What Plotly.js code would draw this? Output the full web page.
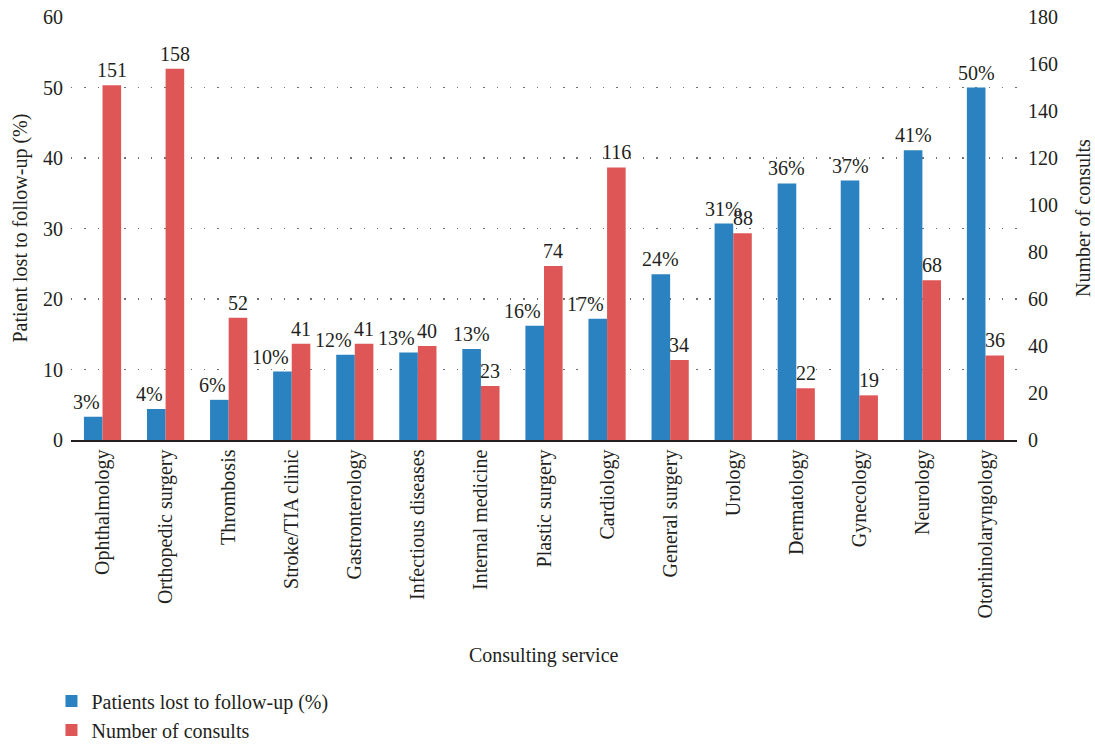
<!DOCTYPE html>
<html>
<head>
<meta charset="utf-8">
<script src="https://cdn.plot.ly/plotly-3.0.1.min.js"></script>
<style>html,body{margin:0;padding:0;background:#fff;}#chart{width:1095px;height:744px;}</style>
</head>
<body>
<div id="chart"></div>
<script>
const categories = ["Ophthalmology","Orthopedic surgery","Thrombosis","Stroke/TIA clinic","Gastronterology","Infectious diseases","Internal medicine","Plastic surgery","Cardiology","General surgery","Urology","Dermatology","Gynecology","Neurology","Otorhinolaryngology"];
const lostPct = [3.3,4.4,5.7,9.7,12.1,12.4,12.9,16.2,17.2,23.5,30.7,36.4,36.8,41.1,50.0];
const lostPctLabels = ["3%","4%","6%","10%","12%","13%","13%","16%","17%","24%","31%","36%","37%","41%","50%"];
const consults = [151,158,52,41,41,40,23,74,116,34,88,22,19,68,36];

const FONT = "Liberation Serif, DejaVu Serif, serif";
const TXT = "#231f20";
const FS = 20;
const W = 0.295;
const M = {l: 71, r: 78, t: 17, b: 304};
const PLOT_W = 1095 - M.l - M.r;
const CAT_PX = PLOT_W / categories.length;
const BAR_PX = W * CAT_PX;

const traces = [
  {
    type: "bar", name: "Patients lost to follow-up (%)",
    x: categories, y: lostPct, yaxis: "y",
    width: W, offset: -W,
    marker: {color: "#2b82c1"},
    hoverinfo: "x+y"
  },
  {
    type: "bar", name: "Number of consults",
    x: categories, y: consults, yaxis: "y2",
    width: W, offset: 0,
    marker: {color: "#de5756"},
    hoverinfo: "x+y"
  }
];

const annFont = {family: FONT, size: FS, color: TXT};
const annotations = [];
categories.forEach((c, i) => {
  // blue label: centred over its bar, or ending at the bar's right edge when the red bar is taller
  const redTaller = consults[i] / 180 > lostPct[i] / 60;
  annotations.push({
    x: c, y: lostPct[i], xref: "x", yref: "y",
    text: lostPctLabels[i], showarrow: false, font: annFont,
    xanchor: redTaller ? "right" : "center",
    xshift: redTaller ? -1 : -BAR_PX / 2,
    yanchor: "bottom", yshift: 2
  });
  annotations.push({
    x: c, y: consults[i], xref: "x", yref: "y2",
    text: String(consults[i]), showarrow: false, font: annFont,
    xanchor: "center", xshift: BAR_PX / 2,
    yanchor: "bottom", yshift: 2
  });
});
// axis titles
annotations.push({
  xref: "paper", yref: "paper", x: (20 - M.l) / PLOT_W, y: 0.5,
  text: "Patient lost to follow-up (%)", textangle: -90, showarrow: false,
  font: annFont, xanchor: "center", yanchor: "middle"
});
annotations.push({
  xref: "paper", yref: "paper", x: (1083 - M.l) / PLOT_W, y: 0.525,
  text: "Number of consults", textangle: -90, showarrow: false,
  font: annFont, xanchor: "center", yanchor: "middle"
});
annotations.push({
  xref: "paper", yref: "paper", x: 0.5, y: (440 - 656) / 423,
  text: "Consulting service", showarrow: false,
  font: annFont, xanchor: "center", yanchor: "middle"
});

const layout = {
  width: 1095, height: 744,
  margin: {l: M.l, r: M.r, t: M.t, b: M.b, autoexpand: false},
  paper_bgcolor: "#fff", plot_bgcolor: "#fff",
  font: {family: FONT, size: FS, color: TXT},
  showlegend: true,
  legend: {
    xref: "container", yref: "container",
    x: 0.047, y: 0.084, xanchor: "left", yanchor: "top",
    orientation: "v", font: {family: FONT, size: FS, color: TXT},
    itemwidth: 30, tracegroupgap: 0
  },
  annotations: annotations,
  xaxis: {
    type: "category", range: [-0.5, 14.5],
    tickangle: -90, ticks: "", showgrid: false,
    showline: true, linecolor: "#231f20", linewidth: 1.5,
    tickfont: {family: FONT, size: FS, color: TXT},
    automargin: false
  },
  yaxis: {
    range: [0, 60], dtick: 10, tick0: 0,
    showgrid: true, gridcolor: "#6f6f6f", gridwidth: 1.4, griddash: "1.4px,11.9px",
    zeroline: false, showline: false, ticks: "", ticklabelstandoff: 7,
    tickfont: {family: FONT, size: FS, color: TXT},
    automargin: false
  },
  yaxis2: {
    overlaying: "y", side: "right",
    range: [0, 180], dtick: 20, tick0: 0,
    showgrid: false, zeroline: false, showline: false, ticks: "", ticklabelstandoff: 10,
    tickfont: {family: FONT, size: FS, color: TXT},
    automargin: false
  }
};

Plotly.newPlot("chart", traces, layout, {displayModeBar: false, staticPlot: true});
</script>
</body>
</html>
